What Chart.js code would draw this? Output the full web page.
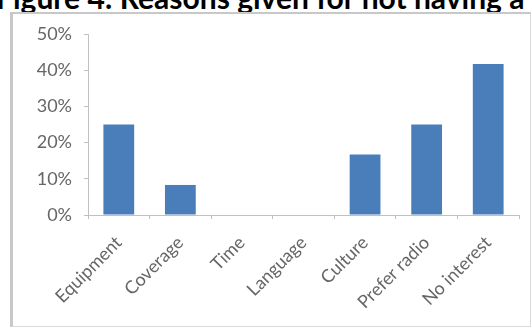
<!DOCTYPE html>
<html>
<head>
<meta charset="utf-8">
<script src="https://cdn.jsdelivr.net/npm/chart.js@4/dist/chart.umd.min.js"></script>
<style>
  html, body { margin: 0; padding: 0; background: #fff; overflow: hidden; }
  body { width: 531px; height: 327px; position: relative; }
  #title {
    position: absolute; left: -4px; top: -21px; white-space: nowrap;
    font-family: Lato, "Open Sans", sans-serif; font-weight: bold; font-size: 30px;
    color: #000;
  }
  #frame {
    position: absolute; left: 10px; top: 12px; width: 517px; height: 312px;
    border: 1px solid #d9d9d9; border-left: 3px solid #c8c8c8; border-top: 2px solid #c8c8c8;
    background: #fff;
  }
  #graph { display: block; }
</style>
</head>
<body>
<div id="title">Figure 4: Reasons given for not having a</div>
<div id="frame"><canvas id="graph" width="517" height="312"></canvas></div>
<script>
/* Reasons for not having a TV - bar chart */

var reasons = ["Equipment", "Coverage", "Time", "Language", "Culture", "Prefer radio", "No interest"];
var shares = [25, 8.3, 0, 0, 16.7, 25, 41.7];
var yTicks = [0, 10, 20, 30, 40, 50];

var ctx = document.getElementById("graph").getContext("2d");

Chart.defaults.font.family = "Lato, 'Open Sans', sans-serif";
Chart.defaults.color = "#666666";

var chart = new Chart(ctx, {
	type: "bar",

	data: {
		labels: reasons,
		datasets: [{
			label: "Share",
			backgroundColor: "#4a7ebb",
			borderWidth: 0,
			data: shares,
			categoryPercentage: 0.5,
			barPercentage: 1.0
		}]
	},

	options: {
		responsive: false,
		animation: false,
		layout: { padding: { left: 0, right: 11, top: 20, bottom: 0 } },
		plugins: {
			legend: { display: false },
			tooltip: { enabled: false }
		},
		scales: {
			x: {
				// keep the plot area fixed, rotated labels may spill left
				afterFit: function(axis) {
					axis.height = 111;
					axis.paddingLeft = 0;
					axis.paddingRight = 0;
				},
				grid: {
					offset: true,
					drawOnChartArea: false,
					drawTicks: true,
					tickLength: 4,
					color: "#c0c0c0"
				},
				border: { color: "#c0c0c0" },
				ticks: {
					minRotation: 45,
					maxRotation: 45,
					padding: 13,
					font: { size: 18 }
				}
			},
			y: {
				min: 0,
				max: 50,
				afterBuildTicks: function(axis) {
					axis.ticks = yTicks.map(function(v) { return { value: v }; });
				},
				afterFit: function(axis) {
					axis.width = 75;
					axis.paddingTop = 0;
					axis.paddingBottom = 0;
				},
				grid: {
					drawOnChartArea: false,
					drawTicks: true,
					tickLength: 4,
					color: "#c0c0c0"
				},
				border: { color: "#c0c0c0" },
				ticks: {
					padding: 12,
					font: { size: 18 },
					callback: function(v) { return v + "%"; }
				}
			}
		}
	}
});
</script>
</body>
</html>
